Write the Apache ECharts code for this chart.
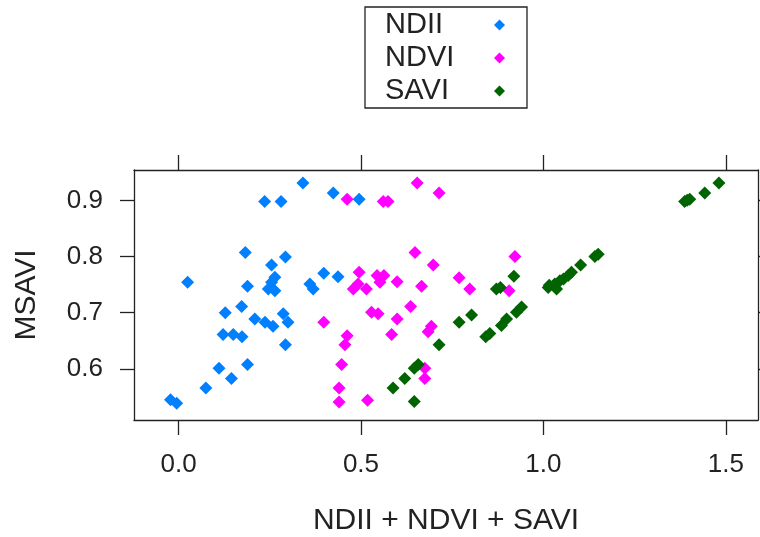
<!DOCTYPE html>
<html><head><meta charset="utf-8">
<script src="https://cdn.jsdelivr.net/npm/echarts@6/dist/echarts.min.js"></script>
<style>html,body{margin:0;padding:0;background:#fff}#c{width:760px;height:537px}</style>
</head><body><div id="c"></div>
<script>
const seriesNames = ['NDII', 'NDVI', 'SAVI'];
const xTicks = [0, 0.5, 1.0, 1.5];
const yTicks = [0.6, 0.7, 0.8, 0.9];
const ndii = [
 [0.341,0.931],[0.236,0.898],[0.281,0.898],[0.424,0.913],[0.495,0.902],
 [0.183,0.807],[0.293,0.799],[0.255,0.785],[0.398,0.770],[0.437,0.764],
 [0.025,0.754],[0.189,0.747],[0.255,0.754],[0.246,0.742],[0.264,0.739],
 [0.264,0.763],[0.360,0.751],[0.369,0.742],[0.173,0.711],[0.128,0.700],
 [0.209,0.689],[0.237,0.683],[0.259,0.676],[0.287,0.698],[0.300,0.683],
 [0.122,0.661],[0.150,0.661],[0.174,0.657],[0.293,0.643],[0.111,0.601],
 [0.189,0.608],[0.145,0.583],[0.075,0.566],[-0.022,0.545],[-0.005,0.539]
];
const ndvi = [
 [0.462,0.902],[0.654,0.931],[0.714,0.913],[0.561,0.898],[0.574,0.898],
 [0.648,0.807],[0.698,0.785],[0.495,0.772],[0.544,0.766],[0.563,0.766],
 [0.599,0.755],[0.769,0.762],[0.922,0.800],[0.492,0.751],[0.479,0.742],
 [0.515,0.742],[0.552,0.754],[0.666,0.747],[0.798,0.742],[0.906,0.739],
 [0.636,0.711],[0.529,0.701],[0.547,0.698],[0.599,0.689],[0.398,0.683],
 [0.693,0.676],[0.684,0.666],[0.584,0.661],[0.462,0.659],[0.456,0.643],
 [0.447,0.608],[0.440,0.566],[0.440,0.541],[0.518,0.544],[0.675,0.601],
 [0.675,0.583]
];
const savi = [
 [1.387,0.898],[1.401,0.902],[1.394,0.900],[1.442,0.913],[1.481,0.931],
 [1.150,0.804],[1.141,0.800],[1.102,0.785],[1.077,0.772],[1.068,0.766],
 [1.055,0.760],[1.045,0.757],[1.031,0.751],[1.016,0.749],[1.013,0.745],
 [1.036,0.742],[0.919,0.765],[0.871,0.742],[0.882,0.745],[0.940,0.710],
 [0.926,0.701],[0.899,0.689],[0.885,0.677],[0.769,0.683],[0.803,0.696],
 [0.714,0.643],[0.646,0.601],[0.657,0.608],[0.620,0.583],[0.588,0.566],
 [0.646,0.542],[0.842,0.657],[0.853,0.663]
];
const colors = ['#0080ff', '#ff00ff', '#006400'];
const FONT = 'Liberation Sans';
const lineStyle = {color: '#222', width: 1.3};
const xRange = [-0.122, 1.588];
const yRange = [0.509, 0.954];

const chart = echarts.init(document.getElementById('c'), null, {renderer: 'canvas'});
const mkX = (pos, showLabel) => ({
  type: 'value', position: pos, min: xRange[0], max: xRange[1],
  axisLine: {show: true, onZero: false, lineStyle},
  axisTick: {show: true, length: 15, lineStyle, customValues: xTicks},
  axisLabel: {show: showLabel, customValues: xTicks, margin: 32, fontSize: 26, fontFamily: FONT, color: '#222',
    formatter: v => v.toFixed(1)},
  splitLine: {show: false},
  name: showLabel ? 'NDII + NDVI + SAVI' : '', nameLocation: 'middle', nameGap: 86,
  nameTextStyle: {fontSize: 30, fontFamily: FONT, color: '#222'}
});
const mkY = (pos, showLabel) => ({
  type: 'value', position: pos, min: yRange[0], max: yRange[1],
  axisLine: {show: true, onZero: false, lineStyle},
  axisTick: {show: true, length: 14, lineStyle, customValues: yTicks},
  axisLabel: {show: showLabel, customValues: yTicks, margin: 31, fontSize: 26, fontFamily: FONT, color: '#222',
    formatter: v => v.toFixed(1)},
  splitLine: {show: false},
  name: showLabel ? 'MSAVI' : '', nameLocation: 'middle', nameGap: 92, nameRotate: 90,
  nameTextStyle: {fontSize: 30, fontFamily: FONT, color: '#222'}
});
const datasets = [ndii, ndvi, savi];
chart.setOption({
  animation: false,
  backgroundColor: '#fff',
  grid: {left: 134, right: 2, top: 170, bottom: 115, containLabel: false},
  legend: {
    orient: 'vertical', left: 365, top: 7, align: 'right',
    padding: [3, 22, 2, 20], itemGap: 3,
    borderColor: '#222', borderWidth: 1.3,
    itemWidth: 11, itemHeight: 11, icon: 'diamond',
    formatter: name => '{t|' + name + '}',
    textStyle: {fontSize: 29, lineHeight: 30, fontFamily: FONT, color: '#222',
      rich: {t: {width: 104, align: 'left', fontSize: 29, lineHeight: 30, fontFamily: FONT, color: '#222'}}},
    data: seriesNames
  },
  xAxis: [mkX('bottom', true), mkX('top', false)],
  yAxis: [mkY('left', true), mkY('right', false)],
  series: datasets.map((d, i) => ({
    type: 'scatter', name: seriesNames[i], data: d,
    symbol: 'diamond', symbolSize: [13, 13],
    itemStyle: {color: colors[i], opacity: 1}
  }))
});
</script></body></html>
